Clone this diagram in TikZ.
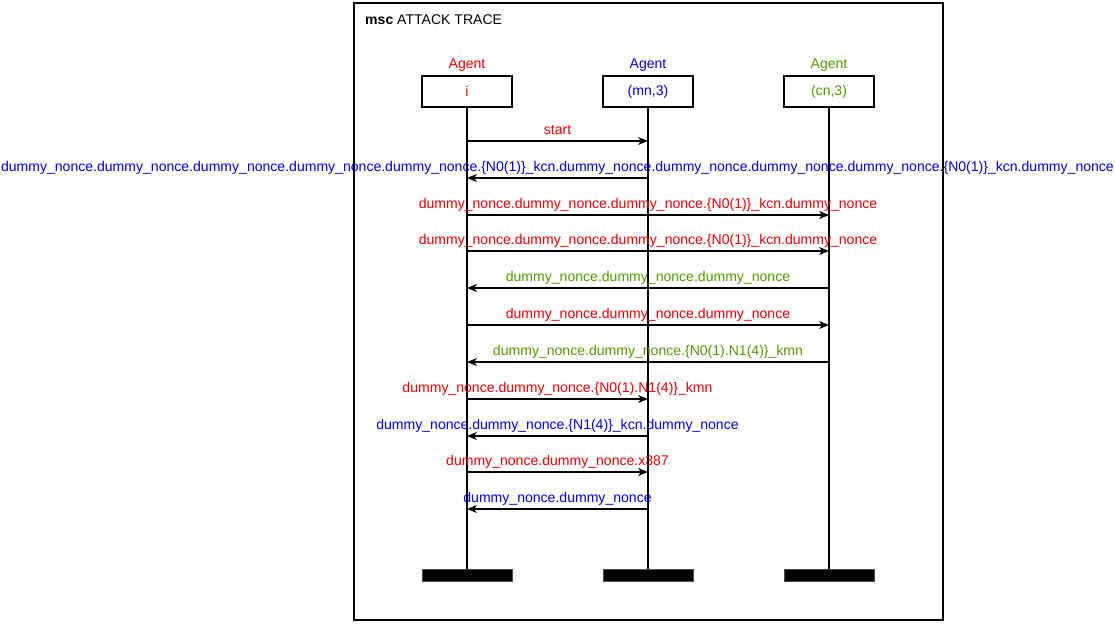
\documentclass[tikz,border=0pt]{standalone}
\usepackage{fontspec}
\setmainfont{Liberation Sans}
\usetikzlibrary{positioning, arrows.meta}
\definecolor{agentred}{RGB}{240,0,0}
\definecolor{agentblue}{RGB}{0,0,230}
\definecolor{agentgreen}{RGB}{80,155,0}
\tikzstyle{agent} = [rectangle, minimum width=90pt, minimum height=31pt, text centered, draw=black, line width=1.2pt]
\tikzstyle{stop} = [rectangle, minimum width=90pt, minimum height=12pt, fill=black, draw=black!70, line width=0.6pt]
\tikzstyle{msg} = [line width=1.2pt, -{Stealth[length=10pt, width=8pt, inset=3pt]}]
\tikzstyle{life} = [line width=1.3pt]

\begin{document}
\begin{tikzpicture}[x=1pt, y=-1pt, font=\fontsize{14.05}{17}\selectfont]
        \useasboundingbox (0,0) rectangle (1115,624);
        \draw [line width=1.2pt] (354,3) rectangle (943,620);
        \node (title) [anchor=base west, inner sep=0pt] at (365,24) {\textbf{msc} ATTACK TRACE};

        % agents
        \node (i) [agent, text=agentred] at (467,91.5) {i};
        \node (mn) [agent, text=agentblue] at (648,91.5) {(mn,3)};
        \node (cn) [agent, text=agentgreen] at (829,91.5) {(cn,3)};
        \node [anchor=base, text=agentred] at ([yshift=7pt]i.north) {Agent};
        \node [anchor=base, text=agentblue] at ([yshift=7pt]mn.north) {Agent};
        \node [anchor=base, text=agentgreen] at ([yshift=7pt]cn.north) {Agent};

        % ends of the lifelines
        \node (iend) [stop] at (i |- 0,575) {};
        \node (mnend) [stop] at (mn |- 0,575) {};
        \node (cnend) [stop] at (cn |- 0,575) {};
        \draw [life] (i) -- (iend);
        \draw [life] (mn) -- (mnend);
        \draw [life] (cn) -- (cnend);

        % messages
        \foreach \y/\from/\to/\col/\txt in {
            141/i/mn/agentred/start,
            178/mn/i/agentblue/dummy\_nonce.dummy\_nonce.dummy\_nonce.dummy\_nonce.dummy\_nonce.\{N0(1)\}\_kcn.dummy\_nonce.dummy\_nonce.dummy\_nonce.dummy\_nonce.\{N0(1)\}\_kcn.dummy\_nonce,
            215/i/cn/agentred/dummy\_nonce.dummy\_nonce.dummy\_nonce.\{N0(1)\}\_kcn.dummy\_nonce,
            251/i/cn/agentred/dummy\_nonce.dummy\_nonce.dummy\_nonce.\{N0(1)\}\_kcn.dummy\_nonce,
            288/cn/i/agentgreen/dummy\_nonce.dummy\_nonce.dummy\_nonce,
            325/i/cn/agentred/dummy\_nonce.dummy\_nonce.dummy\_nonce,
            362/cn/i/agentgreen/dummy\_nonce.dummy\_nonce.\{N0(1).N1(4)\}\_kmn,
            399/i/mn/agentred/dummy\_nonce.dummy\_nonce.\{N0(1).N1(4)\}\_kmn,
            436/mn/i/agentblue/dummy\_nonce.dummy\_nonce.\{N1(4)\}\_kcn.dummy\_nonce,
            472/i/mn/agentred/dummy\_nonce.dummy\_nonce.x387,
            509/mn/i/agentblue/dummy\_nonce.dummy\_nonce}
        {
            \draw [msg] (\from |- 0,\y) -- node[anchor=base, yshift=7pt, inner sep=0pt, text=\col]{\txt} (\to |- 0,\y);
        }
\end{tikzpicture}
\end{document}
